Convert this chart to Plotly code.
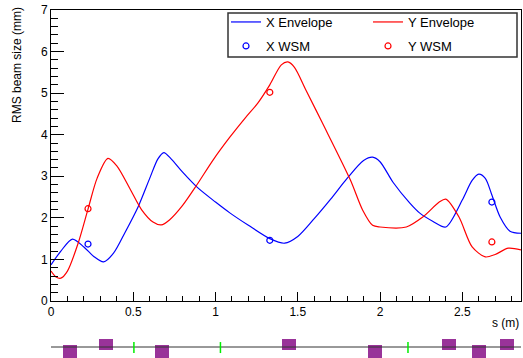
import plotly.graph_objects as go

# ---- data ----
x_env_s = [0.00, 0.06, 0.13, 0.20, 0.26, 0.32, 0.38, 0.45, 0.53, 0.60, 0.65, 0.686, 0.73, 0.80,
           0.893, 1.00, 1.087, 1.20, 1.33, 1.42, 1.50, 1.60, 1.70, 1.80, 1.90, 1.955, 2.00, 2.08,
           2.18, 2.24, 2.32, 2.40, 2.50, 2.56, 2.60, 2.64, 2.68, 2.73, 2.79, 2.857]
x_env_v = [0.87, 1.20, 1.49, 1.30, 1.07, 0.94, 1.15, 1.65, 2.27, 2.95, 3.42, 3.57, 3.42, 3.10,
           2.72, 2.38, 2.12, 1.82, 1.50, 1.39, 1.55, 1.98, 2.45, 2.95, 3.38, 3.46, 3.35, 2.85,
           2.36, 2.12, 1.92, 1.78, 2.43, 2.90, 3.05, 2.95, 2.55, 2.02, 1.68, 1.63]

y_env_s = [0.00, 0.03, 0.06, 0.10, 0.165, 0.225, 0.28, 0.346, 0.40, 0.48, 0.55, 0.62, 0.67, 0.72,
           0.80, 0.886, 0.985, 1.087, 1.18, 1.257, 1.33, 1.40, 1.44, 1.48, 1.55, 1.65, 1.82, 1.894,
           1.955, 2.00, 2.16, 2.26, 2.36, 2.40, 2.48, 2.56, 2.64, 2.70, 2.78, 2.857]
y_env_v = [0.72, 0.58, 0.55, 0.72, 1.39, 2.21, 2.95, 3.43, 3.25, 2.70, 2.20, 1.90, 1.83, 1.95,
           2.30, 2.79, 3.39, 3.94, 4.40, 4.76, 5.20, 5.68, 5.75, 5.62, 5.07, 4.28, 2.91, 2.19,
           1.82, 1.78, 1.78, 2.02, 2.38, 2.45, 2.02, 1.30, 1.06, 1.12, 1.27, 1.23]

wsm_s = [0.225, 1.33, 2.68]
x_wsm = [1.37, 1.46, 2.38]
y_wsm = [2.22, 5.02, 1.42]

# lattice: quadrupoles (sign +1 above line, -1 below) and correctors
quad_s = [0.115, 0.334, 0.674, 1.445, 1.967, 2.42, 2.60, 2.77]
quad_sign = [-1, 1, -1, 1, -1, 1, -1, 1]
corr_s = [0.504, 1.03, 2.17]
s_max = 2.857

FONT = "Liberation Sans, Arial, sans-serif"
BLUE = "#0000ff"
RED = "#ff0000"

fig = go.Figure()
fig.add_trace(go.Scatter(x=x_env_s, y=x_env_v, mode="lines", name="X Envelope",
                         line=dict(color=BLUE, width=1.2, shape="spline", smoothing=0.8),
                         legend="legend"))
fig.add_trace(go.Scatter(x=y_env_s, y=y_env_v, mode="lines", name="Y Envelope",
                         line=dict(color=RED, width=1.2, shape="spline", smoothing=0.8),
                         legend="legend2"))
fig.add_trace(go.Scatter(x=wsm_s, y=x_wsm, mode="markers", name="X WSM",
                         marker=dict(symbol="circle-open", color=BLUE, size=6, line=dict(width=1.2)),
                         legend="legend3"))
fig.add_trace(go.Scatter(x=wsm_s, y=y_wsm, mode="markers", name="Y WSM",
                         marker=dict(symbol="circle-open", color=RED, size=6, line=dict(width=1.2)),
                         legend="legend4"))

# lattice strip
fig.add_trace(go.Scatter(x=[0, s_max], y=[0, 0], mode="lines", xaxis="x2", yaxis="y2",
                         line=dict(color="#333333", width=1), showlegend=False, hoverinfo="skip"))
q_base = [-0.27 if sg > 0 else -1.25 for sg in quad_sign]
q_h = [1.0 if sg > 0 else 1.43 for sg in quad_sign]
fig.add_trace(go.Bar(x=quad_s, y=q_h, base=q_base, width=0.085, xaxis="x2", yaxis="y2",
                     marker=dict(color="#993399", line=dict(width=0)), showlegend=False))
cx, cy = [], []
for s in corr_s:
    cx += [s, s, None]
    cy += [-0.55, 0.45, None]
fig.add_trace(go.Scatter(x=cx, y=cy, mode="lines", xaxis="x2", yaxis="y2",
                         line=dict(color="#00ee00", width=1.5), showlegend=False, hoverinfo="skip"))

W, H = 523, 358
top, bot, left, right = 10, 0, 51, 2
plot_w = W - left - right
plot_h = H - top - bot
main_dom0 = (H - 301) / plot_h
strip_dom1 = (H - 336) / plot_h


def px_x(px):
    return (px - left) / plot_w


def px_y(py):
    return (H - py) / plot_h


axis_common = dict(showline=True, linecolor="black", linewidth=1, mirror=True,
                   ticks="inside", tickcolor="black", showgrid=False, zeroline=False,
                   automargin=False,
                   tickfont=dict(family=FONT, size=12, color="black"))


def leg(xpx, ypx):
    return dict(x=px_x(xpx), y=px_y(ypx), xref="paper", yref="paper",
                xanchor="left", yanchor="middle", bgcolor="rgba(0,0,0,0)", borderwidth=0,
                font=dict(family=FONT, size=13, color="black"), itemwidth=30)


fig.update_layout(
    template="none",
    width=W, height=H,
    margin=dict(l=left, r=right, t=top, b=bot, pad=0),
    paper_bgcolor="white", plot_bgcolor="white",
    font=dict(family=FONT, size=12, color="black"),
    showlegend=True,
    bargap=0,
    xaxis=dict(range=[0, s_max], tickvals=[0, 0.5, 1, 1.5, 2, 2.5],
               ticktext=["0", "0.5", "1", "1.5", "2", "2.5"], ticklen=9,
               minor=dict(dtick=0.1, tick0=0, ticklen=5, ticks="inside", tickcolor="black"),
               anchor="y", **axis_common),
    yaxis=dict(range=[0, 7], domain=[main_dom0, 1], dtick=1, ticklen=13,
               minor=dict(dtick=0.2, tick0=0, ticklen=7, ticks="inside", tickcolor="black"),
               anchor="x", **axis_common),
    xaxis2=dict(range=[0, s_max], anchor="y2", visible=False, automargin=False),
    yaxis2=dict(range=[-1, 1], domain=[0, strip_dom1], visible=False, anchor="x2",
                automargin=False),
    legend=leg(226, 22),
    legend2=leg(368, 22),
    legend3=leg(226, 46),
    legend4=leg(368, 46),
    shapes=[dict(type="rect", xref="paper", yref="paper",
                 x0=px_x(228), x1=px_x(517), y0=px_y(57), y1=px_y(13),
                 fillcolor="white", line=dict(color="#333333", width=1.5), layer="above")],
    annotations=[
        dict(text="s (m)", xref="paper", yref="paper", x=1, y=px_y(323),
             xanchor="right", yanchor="middle", showarrow=False,
             font=dict(family=FONT, size=12, color="black")),
        dict(text="RMS beam size (mm)", xref="paper", yref="paper", x=px_x(17),
             y=px_y(65), xanchor="center", yanchor="middle", textangle=-90,
             showarrow=False, font=dict(family=FONT, size=12, color="black")),
    ],
)

fig.write_html("out.html")
